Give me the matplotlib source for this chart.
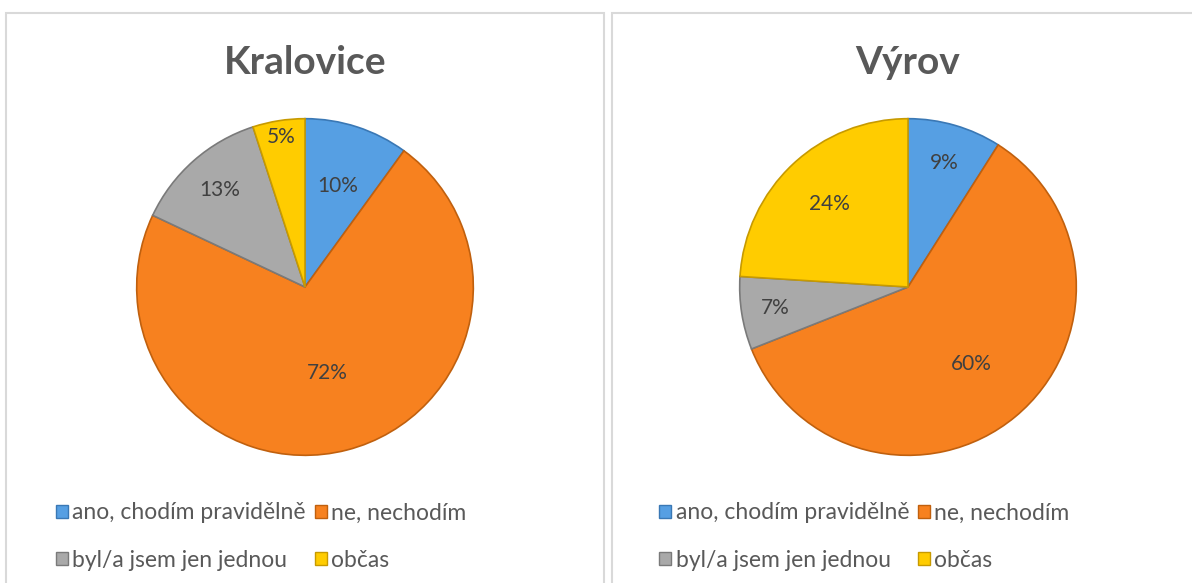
import numpy as np
import matplotlib.pyplot as plt
from matplotlib.patches import Rectangle, Patch

# data
kategorie = ["ano, chodím pravidělně", "ne, nechodím", "byl/a jsem jen jednou", "občas"]
kralovice = [10, 72, 13, 5]
vyrov = [9, 60, 7, 24]
barvy = ["#569FE3", "#F7811F", "#A9A9A9", "#FFCC00"]
hrany = ["#3A78B5", "#C0600E", "#7A7A7A", "#C79A00"]

# vzdalenost popisku od stredu (jako v Excelu "best fit")
vzd_k = [0.63, 0.53, 0.77, 0.90]
vzd_v = [0.77, 0.59, 0.80, 0.68]

plt.rcParams['font.family'] = ['Lato', 'DejaVu Sans']

W, H = 1192, 583
fig = plt.figure(figsize=(W / 100, H / 100), dpi=100)

# ramecky panelu
for x0, x1 in [(6, 604), (612, 1210)]:
    fig.patches.append(Rectangle((x0 / W, -0.05), (x1 - x0) / W, (H - 13) / H + 0.05,
                                 transform=fig.transFigure, fill=False,
                                 edgecolor="#D9D9D9", linewidth=1.5))


def kolac(cx, cy, hodnoty, vzd, nazev):
    r = 170
    ax = fig.add_axes([(cx - r) / W, (H - cy - r) / H, 2 * r / W, 2 * r / H])
    wedges, _ = ax.pie(hodnoty, colors=barvy, startangle=90, counterclock=False,
                       radius=1, wedgeprops=dict(linewidth=1.2))
    for w, e in zip(wedges, hrany):
        w.set_edgecolor(e)
    # popisky
    for w, v, d in zip(wedges, hodnoty, vzd):
        mid = np.radians((w.theta1 + w.theta2) / 2)
        ax.text(d * np.cos(mid), d * np.sin(mid), f"{v}%", ha="center", va="center",
                fontsize=15, color="#404040")
    ax.set_xlim(-1.01, 1.01)
    ax.set_ylim(-1.01, 1.01)
    ax.set_aspect("equal")
    ax.axis("off")
    fig.text(cx / W, 1 - 62 / H, nazev, ha="center", va="center", fontsize=28,
             fontweight="bold", color="#595959")

    handles = [Patch(facecolor=c, edgecolor=e) for c, e in zip(barvy, hrany)]
    order = [0, 2, 1, 3]
    fig.legend([handles[i] for i in order], [kategorie[i] for i in order],
               ncol=2, loc="upper left", bbox_to_anchor=((cx - 260) / W, 1 - 491 / H),
               frameon=False, fontsize=16.5, labelcolor="#595959",
               handlelength=0.5, handleheight=0.5, handletextpad=0.2,
               columnspacing=0.4, labelspacing=1.15, borderpad=0)


kolac(305, 287, kralovice, vzd_k, "Kralovice")
kolac(908, 287, vyrov, vzd_v, "Výrov")

fig.savefig("out.png", dpi=100)
